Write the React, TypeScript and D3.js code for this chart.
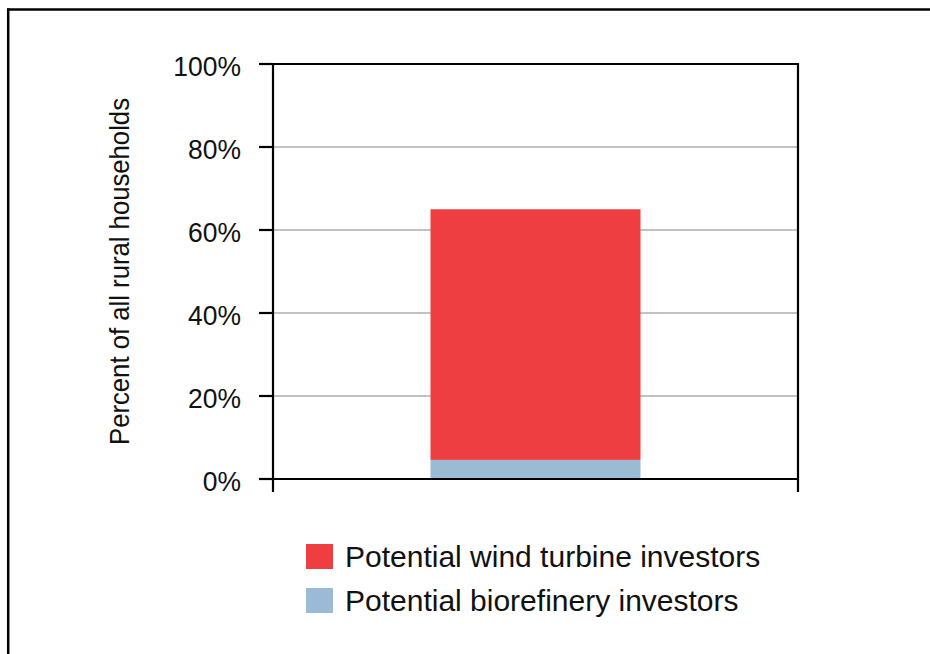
import React from "react";
import * as d3 from "d3";

// Share of rural households, stacked by investor type
const categories = ["All rural households"];
const biorefinery = [4.6];
const windTurbine = [60.4];
const yTicks = [0, 20, 40, 60, 80, 100];
const seriesNames = ["Potential wind turbine investors", "Potential biorefinery investors"];
const seriesColors = ["#EF3E42", "#9BBAD4"];

const W = 930;
const H = 654;
const left = 273;
const right = 798;
const top = 64;
const bottom = 479;
const FONT = "'Liberation Sans', Arial, Helvetica, sans-serif";

export default function App() {
  const y = d3.scaleLinear().domain([0, 100]).range([bottom, top]);
  const x = d3
    .scaleBand<string>()
    .domain(categories)
    .range([left, right])
    .paddingInner(0)
    .paddingOuter(0.75);

  const rows = categories.map((c, i) => ({
    cat: c,
    bio: biorefinery[i],
    wind: windTurbine[i],
  }));
  const stack = d3.stack<any>().keys(["bio", "wind"]);
  const layers = stack(rows);
  const colorFor: Record<string, string> = { wind: seriesColors[0], bio: seriesColors[1] };

  return (
    <svg
      width={W}
      height={H}
      style={{ position: "absolute", left: 0, top: 0, background: "#fff" }}
      fontFamily={FONT}
    >
      {/* outer frame */}
      <line x1={7} x2={W} y1={9.5} y2={9.5} stroke="#000" strokeWidth={2.5} />
      <line x1={8.2} x2={8.2} y1={8.5} y2={H} stroke="#000" strokeWidth={2.5} />

      {/* gridlines */}
      {yTicks
        .filter((t) => t > 0 && t < 100)
        .map((t) => (
          <line key={t} x1={left} x2={right} y1={y(t)} y2={y(t)} stroke="#C2C2C2" strokeWidth={2} />
        ))}

      {/* stacked bars */}
      {layers.map((layer) =>
        layer.map((d, i) => (
          <rect
            key={layer.key + i}
            x={x(rows[i].cat)}
            width={x.bandwidth()}
            y={y(d[1])}
            height={y(d[0]) - y(d[1])}
            fill={colorFor[layer.key]}
          />
        ))
      )}

      {/* plot frame: top and right */}
      <line x1={left} x2={right} y1={y(100)} y2={y(100)} stroke="#000" strokeWidth={2.2} />
      <line x1={right} x2={right} y1={y(100) - 1} y2={bottom + 13} stroke="#000" strokeWidth={2.2} />

      {/* axes */}
      <line x1={left} x2={left} y1={y(100) - 1} y2={bottom + 13} stroke="#000" strokeWidth={2.2} />
      <line x1={left - 14} x2={right} y1={bottom} y2={bottom} stroke="#000" strokeWidth={2.2} />

      {/* y ticks and labels */}
      {yTicks.map((t) => (
        <g key={t}>
          <line x1={left - 14} x2={left} y1={y(t)} y2={y(t)} stroke="#000" strokeWidth={2.2} />
          <text
            transform={`translate(241, ${y(t)}) scale(0.945, 1)`}
            dy="0.44em"
            textAnchor="end"
            fontSize={28}
            fill="#111"
          >
            {t}%
          </text>
        </g>
      ))}

      {/* y axis title */}
      <text
        transform={`translate(129, ${(top + bottom) / 2}) rotate(-90) scale(1, 1.06)`}
        textAnchor="middle"
        fontSize={25.7}
        fill="#111"
      >
        Percent of all rural households
      </text>

      {/* legend */}
      {seriesNames.map((name, i) => (
        <g key={name} transform={`translate(306, ${544 + i * 44})`}>
          <rect x={0} y={0} width={27} height={25} fill={seriesColors[i]} />
          <text x={39} y={22.7} fontSize={30} fill="#111">
            {name}
          </text>
        </g>
      ))}
    </svg>
  );
}
